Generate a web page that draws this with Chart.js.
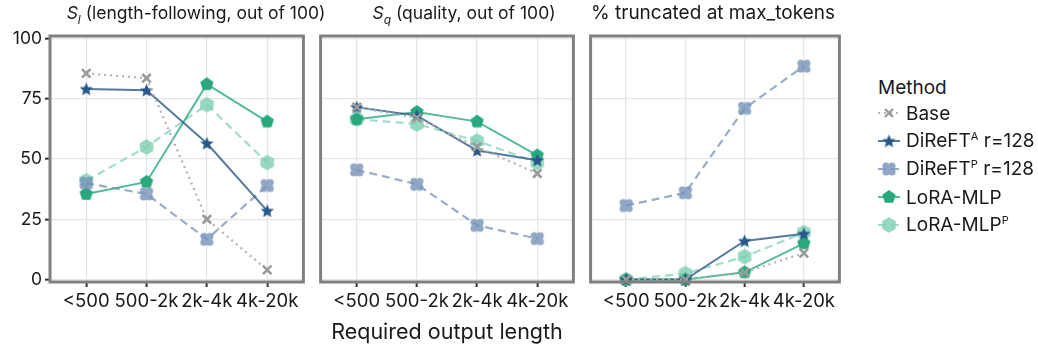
<!DOCTYPE html>
<html>
<head>
<meta charset="utf-8">
<script src="https://cdn.jsdelivr.net/npm/chart.js@4/dist/chart.umd.min.js"></script>
<style>
  body { margin: 0; background: #fff; font-family: Inter, "Noto Sans", sans-serif; color: #1a1a1a; }
  #wrap { position: relative; width: 1038px; height: 347px; overflow: hidden; }
  canvas.panel { position: absolute; top: 0; }
  .title { position: absolute; top: 2px; width: 340px; display: flex; justify-content: center; font-size: 17.5px; white-space: nowrap; }
  .title sub { font-size: 12px; }
  .xtitle { position: absolute; top: 318px; left: 247px; width: 400px; text-align: center; font-size: 21.5px; white-space: nowrap; }
  #legend { position: absolute; left: 870px; top: 76px; font-size: 19px; }
  #legend .head { margin-left: 8px; margin-bottom: 0px; }
  #legend .item { display: flex; align-items: center; height: 28px; }
  #legend .item span { margin-left: 6px; white-space: nowrap; }
  #legend sup { font-size: 11px; }
</style>
</head>
<body>
<div id="wrap">
  <canvas id="c1" class="panel" style="left:0px"></canvas>
  <canvas id="c2" class="panel" style="left:312px"></canvas>
  <canvas id="c3" class="panel" style="left:582px"></canvas>
  <div class="title" style="left:26px"><span><i>S<sub>l</sub></i> (length-following, out of 100)</span></div>
  <div class="title" style="left:294px"><span><i>S<sub>q</sub></i> (quality, out of 100)</span></div>
  <div class="title" style="left:543px; font-size:19px; top:1px"><span>% truncated at max_tokens</span></div>
  <div class="xtitle">Required output length</div>
  <div id="legend"><div class="head">Method</div></div>
</div>
<script>
// categories and tick labels
const categories = ['<500', '500-2k', '2k-4k', '4k-20k'];
const yTicks = [0, 25, 50, 75, 100];

// S_l (length-following)
const lenBase    = [85.5, 83.5, 25, 4];
const lenDireftA = [79, 78.5, 56.5, 28.5];
const lenDireftP = [40, 35.5, 16.7, 39];
const lenLora    = [35.5, 40.5, 81, 65.5];
const lenLoraP   = [41, 55, 72.5, 48.5];

// S_q (quality)
const qualBase    = [71.5, 67, 55, 44];
const qualDireftA = [71.5, 68, 53.5, 49.5];
const qualDireftP = [45.5, 39.5, 22.5, 17];
const qualLora    = [66.5, 69.5, 65.5, 51.5];
const qualLoraP   = [66.5, 64.5, 57.5, 48.5];

// % truncated at max_tokens
const truncBase    = [0, 0, 3, 11];
const truncDireftA = [0, 0, 16, 19];
const truncDireftP = [30.7, 36, 71, 88.5];
const truncLora    = [0, 0, 3, 15];
const truncLoraP   = [0, 2.5, 9.5, 19.5];

// marker images
function shape(size, draw) {
  const c = document.createElement('canvas');
  c.width = c.height = size;
  draw(c.getContext('2d'), size / 2);
  return c;
}
function poly(g, c, r, n, rot) {
  g.beginPath();
  for (let i = 0; i < n; i++) {
    const a = rot + i * 2 * Math.PI / n;
    g.lineTo(c + r * Math.cos(a), c + r * Math.sin(a));
  }
  g.closePath();
}
const starImg = shape(15, (g, c) => {
  g.beginPath();
  for (let i = 0; i < 10; i++) {
    const r = i % 2 ? 3.2 : 7;
    const a = -Math.PI / 2 + i * Math.PI / 5;
    g.lineTo(c + r * Math.cos(a), c + 0.5 + r * Math.sin(a));
  }
  g.closePath();
  g.fillStyle = '#27588a';
  g.fill();
});
const cloverImg = shape(16, (g, c) => {
  g.fillStyle = 'rgba(120,148,184,0.82)';
  g.beginPath();
  [[-3, -3], [3, -3], [-3, 3], [3, 3]].forEach(([dx, dy]) => {
    g.moveTo(c + dx + 3.6, c + dy);
    g.arc(c + dx, c + dy, 3.6, 0, 2 * Math.PI);
  });
  g.rect(c - 4, c - 4, 8, 8);
  g.fill();
});
const pentImg = shape(16, (g, c) => {
  poly(g, c, 7, 5, -Math.PI / 2);
  g.fillStyle = '#27a87d';
  g.fill();
});
const hexImg = shape(18, (g, c) => {
  poly(g, c, 7.8, 6, Math.PI / 2);
  g.fillStyle = 'rgba(125,208,176,0.8)';
  g.fill();
});

const styles = [
  { label: 'Base', borderColor: '#b3b3b3', borderDash: [2, 4], borderWidth: 2.2,
    pointStyle: 'crossRot', pointRadius: 6, pointBorderWidth: 2.6, pointBorderColor: '#9a9a9a' },
  { label: 'DiReFT^A r=128', borderColor: 'rgba(45,90,135,0.8)', borderDash: [], borderWidth: 2,
    pointStyle: starImg },
  { label: 'DiReFT^P r=128', borderColor: 'rgba(110,138,176,0.7)', borderDash: [8, 5], borderWidth: 2.2,
    pointStyle: cloverImg },
  { label: 'LoRA-MLP', borderColor: 'rgba(40,170,125,0.8)', borderDash: [], borderWidth: 2,
    pointStyle: pentImg },
  { label: 'LoRA-MLP^P', borderColor: 'rgba(130,210,180,0.75)', borderDash: [8, 5], borderWidth: 2.2,
    pointStyle: hexImg },
];

const borderPlugin = {
  id: 'panelBorder',
  afterDatasetsDraw(chart) {
    const a = chart.chartArea, ctx = chart.ctx;
    ctx.save();
    ctx.strokeStyle = '#808080';
    ctx.lineWidth = 3;
    ctx.strokeRect(a.left, a.top, a.right - a.left, a.bottom - a.top);
    ctx.restore();
  }
};

function makePanel(id, width, yWidth, padRight, series, showY) {
  const canvas = document.getElementById(id);
  canvas.width = width;
  canvas.height = 320;
  canvas.style.width = width + 'px';
  canvas.style.height = '320px';
  return new Chart(canvas.getContext('2d'), {
    type: 'line',
    data: {
      datasets: series.map((vals, i) => ({
        ...styles[i],
        data: vals.map((v, j) => ({ x: j, y: v })),
        backgroundColor: styles[i].pointBorderColor || styles[i].borderColor,
        fill: false,
        tension: 0,
        clip: 4,
      })),
    },
    options: {
      responsive: false,
      animation: false,
      devicePixelRatio: 1,
      layout: { padding: { top: 36, right: padRight, left: 0, bottom: 0 } },
      plugins: { legend: { display: false }, tooltip: { enabled: false } },
      scales: {
        x: {
          type: 'linear',
          min: -0.6,
          max: 3.6,
          afterBuildTicks: (s) => { s.ticks = categories.map((c, i) => ({ value: i })); },
          afterFit: (s) => { s.height = 38; },
          border: { display: false },
          grid: { color: '#e6e6e6', lineWidth: 1.3, drawTicks: true, tickLength: 5, tickColor: '#333', tickWidth: 2 },
          ticks: {
            autoSkip: false, maxRotation: 0, padding: 3, color: '#1a1a1a',
            font: { family: 'Inter', size: 18.5 },
            callback: (v) => categories[v],
          },
        },
        y: {
          min: -1,
          max: 101,
          afterBuildTicks: (s) => { s.ticks = yTicks.map(v => ({ value: v })); },
          afterFit: (s) => { s.width = yWidth; },
          border: { display: false },
          grid: { color: '#e6e6e6', lineWidth: 1.3, drawTicks: showY, tickLength: 5, tickColor: '#333', tickWidth: 2 },
          ticks: {
            display: showY, padding: 3, color: '#1a1a1a',
            font: { family: 'Inter', size: 17.5 },
          },
        },
      },
    },
    plugins: [borderPlugin],
  });
}

makePanel('c1', 312, 50, 6, [lenBase, lenDireftA, lenDireftP, lenLora, lenLoraP], true);
makePanel('c2', 270, 6, 6, [qualBase, qualDireftA, qualDireftP, qualLora, qualLoraP], false);
makePanel('c3', 266, 5, 5, [truncBase, truncDireftA, truncDireftP, truncLora, truncLoraP], false);

// legend
const legendLabels = ['Base', 'DiReFT<sup>A</sup> r=128', 'DiReFT<sup>P</sup> r=128', 'LoRA-MLP', 'LoRA-MLP<sup>P</sup>'];
const legend = document.getElementById('legend');
styles.forEach((st, i) => {
  const item = document.createElement('div');
  item.className = 'item';
  const c = document.createElement('canvas');
  c.width = 30; c.height = 20;
  const g = c.getContext('2d');
  g.strokeStyle = st.borderColor;
  g.lineWidth = st.borderWidth;
  g.setLineDash(st.borderDash);
  g.beginPath(); g.moveTo(8, 10); g.lineTo(30, 10); g.stroke();
  g.setLineDash([]);
  if (typeof st.pointStyle === 'string') {
    g.strokeStyle = st.pointBorderColor;
    g.lineWidth = 2.4;
    g.beginPath();
    g.moveTo(15, 6); g.lineTo(23, 14); g.moveTo(23, 6); g.lineTo(15, 14);
    g.stroke();
  } else {
    const img = st.pointStyle;
    g.drawImage(img, 19 - img.width / 2, 10 - img.height / 2);
  }
  const t = document.createElement('span');
  t.innerHTML = legendLabels[i];
  item.appendChild(c);
  item.appendChild(t);
  legend.appendChild(item);
});
</script>
</body>
</html>
